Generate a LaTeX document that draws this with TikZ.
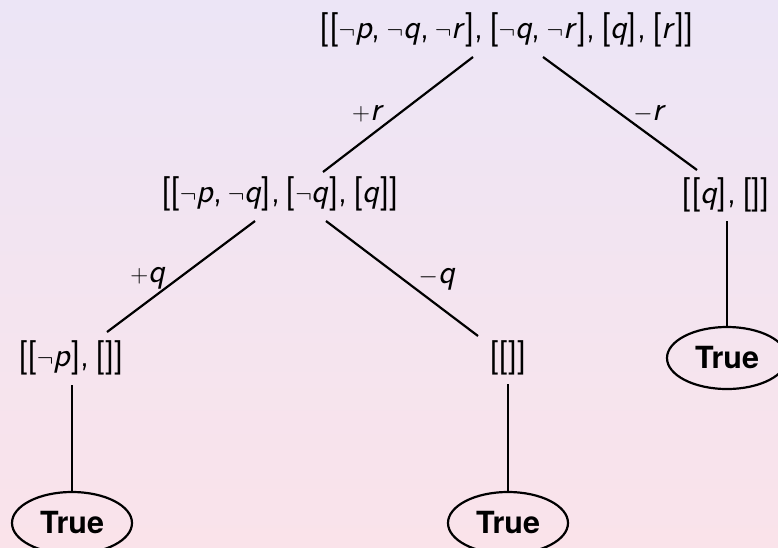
\documentclass[tikz,border=0pt]{standalone}
\usepackage{fontspec}
\newfontfamily\heros{TeX Gyre Heros}
\usetikzlibrary{shapes.geometric}
\definecolor{bgtop}{RGB}{236,229,246}
\definecolor{bgbot}{RGB}{250,227,234}
\newcommand\nv{$\neg$}
\newcommand\vv[1]{\textit{#1}}
\begin{document}
\begin{tikzpicture}[x=1pt,y=-1pt,
  lab/.style={font=\fontsize{34.5}{40}\selectfont\sffamily, inner sep=0pt},
  elab/.style={font=\fontsize{34.5}{40}\selectfont\sffamily, inner sep=0pt, anchor=base},
  edge/.style={line width=2.2pt},
  truebox/.style={ellipse, draw, line width=2.2pt, minimum width=120pt, minimum height=62pt, inner sep=0pt, font=\fontsize{30.5}{36}\selectfont\heros\bfseries}]
\useasboundingbox (0,0) rectangle (778,547);
\clip (0,0) rectangle (778,547);
\shade[top color=bgtop, bottom color=bgbot] (0,0) rectangle (778,547);

\node[lab] (top) at (507,30) {[[\nv\vv{p},\,\nv\vv{q},\,\nv\vv{r}],\,[\nv\vv{q},\,\nv\vv{r}],\,[\vv{q}],\,[\vv{r}]]};
\node[lab] (ml) at (280,194) {[[\nv\vv{p},\,\nv\vv{q}],\,[\nv\vv{q}],\,[\vv{q}]]};
\node[lab] (rt) at (726,195) {[[\vv{q}],\,[]]};
\node[lab] (ll) at (71,358) {[[\nv\vv{p}],\,[]]};
\node[lab] (mm) at (508,358) {[[]]};

\node[truebox] (t1) at (72,523) {True};
\node[truebox] (t2) at (508,523) {True};
\node[truebox] (t3) at (727,358) {True};

\node[elab] (lr1) at (368,120) {$+$\vv{r}};
\node[elab] (lr2) at (650,120) {$-$\vv{r}};
\node[elab] (lq1) at (148,282) {$+$\vv{q}};
\node[elab] (lq2) at (437,283) {$-$\vv{q}};

\draw[edge] ([shift={(-34,27)}]top.center) -- ([shift={(43,-22)}]ml.center);
\draw[edge] ([shift={(36,27)}]top.center) -- ([shift={(-29,-25)}]rt.center);
\draw[edge] ([shift={(-25,27)}]ml.center) -- ([shift={(36,-26)}]ll.center);
\draw[edge] ([shift={(46,27)}]ml.center) -- ([shift={(-30,-22)}]mm.center);
\draw[edge] ([shift={(1,26)}]rt.center) -- (t3.north);
\draw[edge] ([shift={(1,27)}]ll.center) -- (t1.north);
\draw[edge] ([shift={(0,26)}]mm.center) -- (t2.north);
\end{tikzpicture}
\end{document}
